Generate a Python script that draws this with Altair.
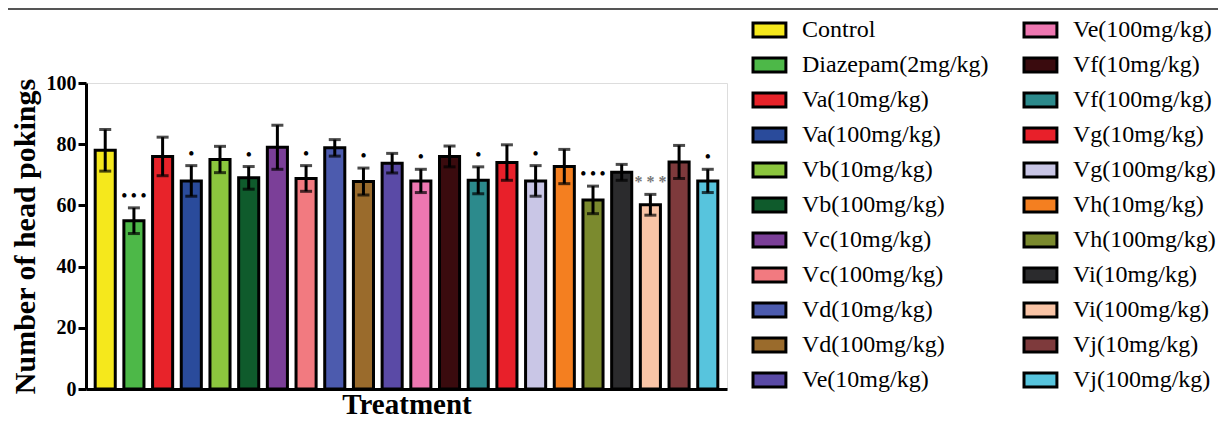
import altair as alt
import pandas as pd

treatments = ["Control", "Diazepam(2mg/kg)", "Va(10mg/kg)", "Va(100mg/kg)", "Vb(10mg/kg)",
              "Vb(100mg/kg)", "Vc(10mg/kg)", "Vc(100mg/kg)", "Vd(10mg/kg)", "Vd(100mg/kg)",
              "Ve(10mg/kg)", "Ve(100mg/kg)", "Vf(10mg/kg)", "Vf(100mg/kg)", "Vg(10mg/kg)",
              "Vg(100mg/kg)", "Vh(10mg/kg)", "Vh(100mg/kg)", "Vi(10mg/kg)", "Vi(100mg/kg)",
              "Vj(10mg/kg)", "Vj(100mg/kg)"]
means = [78, 55, 76, 68, 75, 69, 79, 68.8, 78.8, 67.8, 73.8,
         68, 76, 68.2, 74, 68, 72.7, 61.8, 70.8, 60.2, 74.2, 68]
sems = [6.8, 4.2, 6.3, 5, 4.3, 3.7, 7.2, 4.2, 2.7, 4.4, 3.2,
        3.8, 3.4, 4.4, 5.8, 5, 5.6, 4.5, 2.6, 3.4, 5.4, 3.8]
marks = ["", "• • •", "", "•", "", "•", "", "•", "", "•", "",
         "•", "", "•", "", "•", "", "• • •", "", "* * *", "", "•"]
mark_colors = ["black"] * 19 + ["#777777"] + ["black"] * 2
colors = ["#f5e81c", "#4db848", "#e8232a", "#2a4b9b", "#8cc63e", "#0f5b2c", "#7b3f98",
          "#f27a80", "#4c5bae", "#9a6b2c", "#5a4aa6", "#ee77b1", "#3a0b0e", "#2c8a8c",
          "#e8202a", "#c9c6e6", "#f47f20", "#7b8a2e", "#2b2b2d", "#f9c4a6", "#7e3a3c",
          "#57c4dd"]

df = pd.DataFrame({
    "Treatment": treatments,
    "mean": means,
    "sem": sems,
    "sig": marks,
    "sigcolor": mark_colors,
})
df["lo"] = df["mean"] - df["sem"]
df["hi"] = df["mean"] + df["sem"]

SERIF = "Liberation Serif"

x = alt.X("Treatment:N", sort=treatments,
          scale=alt.Scale(paddingInner=0.3, paddingOuter=0.32),
          axis=alt.Axis(title="Treatment", labels=False, ticks=False,
                        domainColor="black", domainWidth=3,
                        titleFont=SERIF, titleFontSize=29, titleFontWeight="bold",
                        titleColor="black", titleY=24, titleBaseline="alphabetic"))
y_scale = alt.Scale(domain=[0, 100], nice=False)

base = alt.Chart(df)

bars = base.mark_bar(stroke="black", strokeWidth=3).encode(
    x=x,
    y=alt.Y("mean:Q", scale=y_scale,
            axis=alt.Axis(title="Number of head pokings", values=[0, 20, 40, 60, 80, 100],
                          grid=False, domainColor="black", domainWidth=3,
                          tickColor="black", tickWidth=3, tickSize=8,
                          labelFont=SERIF, labelFontSize=20, labelFontWeight="bold",
                          labelColor="black", labelPadding=2,
                          titleFont=SERIF, titleFontSize=30, titleFontWeight="bold",
                          titleColor="black", titleX=-61, titleY=153, titleAngle=-90,
                          titleAlign="center", titleBaseline="middle")),
    color=alt.Color("Treatment:N",
                    scale=alt.Scale(domain=treatments, range=colors),
                    legend=alt.Legend(title=None, orient="none", legendX=662, legendY=-65,
                                      columns=2, columnPadding=29, rowPadding=9,
                                      padding=0,
                                      labelFont=SERIF, labelFontSize=24, labelColor="black",
                                      labelLimit=400, labelOffset=30,
                                      symbolType="M-1,-1H3.7V1H-1Z", symbolSize=196,
                                      symbolStrokeColor="black", symbolStrokeWidth=3,
                                      symbolOpacity=1)),
)

err = base.mark_rule(color="black", strokeWidth=3).encode(
    x=alt.X("Treatment:N", sort=treatments),
    y=alt.Y("lo:Q", scale=y_scale),
    y2="hi:Q",
)
cap_hi = base.mark_tick(color="black", thickness=3, size=12, orient="horizontal").encode(
    x=alt.X("Treatment:N", sort=treatments),
    y=alt.Y("hi:Q", scale=y_scale),
)
cap_lo = base.mark_tick(color="black", thickness=3, size=12, orient="horizontal").encode(
    x=alt.X("Treatment:N", sort=treatments),
    y=alt.Y("lo:Q", scale=y_scale),
)
stars = base.mark_text(font=SERIF, fontSize=16, fontWeight="bold", dy=-12,
                       baseline="middle").encode(
    x=alt.X("Treatment:N", sort=treatments),
    y=alt.Y("hi:Q", scale=y_scale),
    text="sig:N",
    color=alt.Color("sigcolor:N", scale=None),
)
top_line = alt.Chart(pd.DataFrame({"a": [0]})).mark_rule(color="#555555", strokeWidth=2).encode(
    x=alt.value(-78), x2=alt.value(1132), y=alt.value(-74)
)

chart = alt.layer(bars, err, cap_hi, cap_lo, stars, top_line).properties(
    width=641, height=306,
    padding={"left": 78, "top": 75, "right": 491, "bottom": 31},
    autosize=alt.AutoSizeParams(type="none"),
).configure_view(stroke=None).configure(background="white").configure_legend(
    labelFont=SERIF, labelFontSize=24
)

chart.save("out.html", embed_options={"renderer": "svg", "actions": False})
